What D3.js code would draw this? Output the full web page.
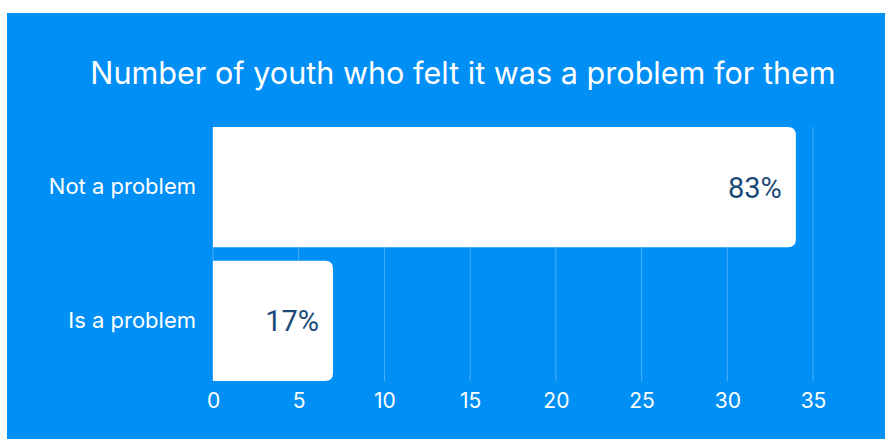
<!DOCTYPE html>
<html>
<head>
<meta charset="utf-8">
<script src="https://cdn.jsdelivr.net/npm/d3@7"></script>
<style>
    html, body { margin: 0; padding: 0; background: #ffffff; }
    svg { display: block; }
</style>
</head>
<body>
<div id="chart"></div>
<script>
// Chart data
const categories = ["Not a problem", "Is a problem"];
const counts = [34, 7];
const percentLabels = ["83%", "17%"];
const xTicks = [0, 5, 10, 15, 20, 25, 30, 35];
const titleText = "Number of youth who felt it was a problem for them";

const width = 885;
const height = 439;
const margin = { top: 127, right: 72, bottom: 58, left: 213 };

const svg = d3.select("#chart").append("svg")
    .attr("width", width)
    .attr("height", height);

// blue panel
svg.append("rect")
    .attr("x", 7)
    .attr("y", 13)
    .attr("width", width - 7)
    .attr("height", height - 13)
    .attr("fill", "#008ff5");

svg.append("text")
    .attr("x", 463)
    .attr("y", 84)
    .attr("text-anchor", "middle")
    .attr("fill", "#ffffff")
    .style("font-family", "Inter, sans-serif")
    .style("font-size", "30.6px")
    .text(titleText);

const x = d3.scaleLinear()
    .domain([0, 35])
    .range([margin.left, width - margin.right]);

const y = d3.scaleBand()
    .domain(categories)
    .range([margin.top, height - margin.bottom])
    .paddingInner(0.1)
    .paddingOuter(0);

// Gridlines
svg.append("g")
    .selectAll("line")
    .data(xTicks)
    .join("line")
    .attr("x1", d => x(d))
    .attr("x2", d => x(d))
    .attr("y1", margin.top)
    .attr("y2", height - margin.bottom)
    .attr("stroke", "#ffffff")
    .attr("stroke-opacity", 0.3)
    .attr("stroke-width", 1);

// Bars: square on the left, rounded on the right
const r = 8;
function barPath(d, i) {
    const x0 = x(0), x1 = x(d), y0 = y(categories[i]), h = y.bandwidth();
    return `M${x0},${y0}H${x1 - r}Q${x1},${y0} ${x1},${y0 + r}` +
        `V${y0 + h - r}Q${x1},${y0 + h} ${x1 - r},${y0 + h}H${x0}Z`;
}

svg.append("g")
    .selectAll("path")
    .data(counts)
    .join("path")
    .attr("d", barPath)
    .attr("fill", "#ffffff");

// Value labels
svg.append("g")
    .selectAll("text")
    .data(counts)
    .join("text")
    .attr("x", d => x(d) - 14)
    .attr("y", (d, i) => y(categories[i]) + y.bandwidth() / 2)
    .attr("dy", "0.36em")
    .attr("text-anchor", "end")
    .attr("fill", "#1a4a78")
    .style("font-family", "Roboto, sans-serif")
    .style("font-size", "29px")
    .text((d, i) => percentLabels[i]);

// Category axis
const yAxis = svg.append("g")
    .attr("transform", `translate(${margin.left - 17},0)`)
    .call(d3.axisLeft(y).tickSize(0).tickPadding(0));
yAxis.select(".domain").remove();
yAxis.selectAll("text")
    .attr("fill", "#ffffff")
    .style("font-family", "Inter, sans-serif")
    .style("font-size", "22px");

// Value axis
const xAxis = svg.append("g")
    .attr("transform", `translate(0,${height - margin.bottom})`)
    .call(d3.axisBottom(x).tickValues(xTicks).tickSize(0).tickPadding(12));
xAxis.select(".domain").remove();
xAxis.selectAll("text")
    .attr("fill", "#ffffff")
    .style("font-family", "Inter, sans-serif")
    .style("font-size", "21px");
</script>
</body>
</html>
